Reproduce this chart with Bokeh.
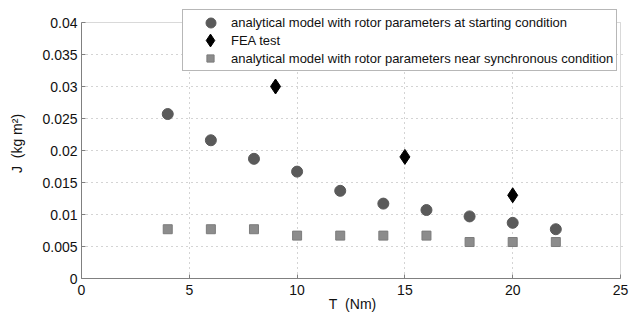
from bokeh.plotting import figure
from bokeh.models import Range1d, FixedTicker, Legend, LegendItem, BoxAnnotation
from bokeh.embed import file_html
from bokeh.resources import INLINE

# ---- data ----
t_start = [4, 6, 8, 10, 12, 14, 16, 18, 20, 22]
j_start = [0.0257, 0.0216, 0.0187, 0.0167, 0.0137, 0.0117, 0.0107, 0.0097, 0.0087, 0.0077]

t_fea = [9, 15, 20]
j_fea = [0.030, 0.019, 0.013]

t_sync = [4, 6, 8, 10, 12, 14, 16, 18, 20, 22]
j_sync = [0.0077, 0.0077, 0.0077, 0.0067, 0.0067, 0.0067, 0.0067, 0.0057, 0.0057, 0.0057]

x_lim = (0, 25)
y_lim = (0, 0.04)
x_ticks = [0, 5, 10, 15, 20, 25]
x_tick_labels = ["0", "5", "10", "15", "20", "25"]
y_ticks = [0, 0.005, 0.01, 0.015, 0.02, 0.025, 0.03, 0.035, 0.04]
y_tick_labels = ["0", "0.005", "0.01", "0.015", "0.02", "0.025", "0.03", "0.035", "0.04"]

x_title = "T\u00a0\u00a0(Nm)"
y_title = "J\u00a0\u00a0(kg\u00a0m²)"
legend_labels = [
    "analytical model with rotor parameters at starting condition",
    "FEA test",
    "analytical model with rotor parameters near synchronous condition",
]

FONT = "Liberation Sans"
C_START = "#5a5a5a"
C_SYNC = "#8c8c8c"
GRAY = "#808080"

# the frame is a little larger than the axes box so the legend (which sits above
# the box, as in the reference) is not clipped; the box itself is drawn at the limits
px_x = 539 / (x_lim[1] - x_lim[0])
px_y = 256 / (y_lim[1] - y_lim[0])
p = figure(width=631, height=314, output_backend="svg", toolbar_location=None,
           x_range=Range1d(x_lim[0], x_lim[1] + 3 / px_x),
           y_range=Range1d(y_lim[0], y_lim[1] + 14 / px_y),
           min_border_left=81, min_border_right=8, min_border_top=8, min_border_bottom=36)
p.background_fill_color = "white"
p.border_fill_color = "white"
p.outline_line_color = None

for ax, ticks, labels, lim in ((p.xaxis[0], x_ticks, x_tick_labels, x_lim),
                               (p.yaxis[0], y_ticks, y_tick_labels, y_lim)):
    ax.ticker = FixedTicker(ticks=ticks)
    ax.bounds = lim
    ax.major_label_overrides = {t: l for t, l in zip(ticks, labels)}
    ax.minor_tick_line_color = None
    ax.major_tick_in = 4
    ax.major_tick_out = 0
    ax.major_tick_line_color = GRAY
    ax.axis_line_color = GRAY
    ax.major_label_text_font = FONT
    ax.major_label_text_font_size = "14px"
    ax.major_label_text_color = "#111111"
    ax.axis_label_text_font = FONT
    ax.axis_label_text_font_style = "normal"
    ax.axis_label_text_color = "#111111"
p.xaxis[0].major_label_standoff = 6
p.xaxis[0].axis_label = x_title
p.xaxis[0].axis_label_standoff = -2
p.xaxis[0].axis_label_text_font_size = "14px"
p.yaxis[0].major_label_standoff = 4
p.yaxis[0].axis_label = y_title
p.yaxis[0].axis_label_standoff = 14
p.yaxis[0].axis_label_text_font_size = "14px"

p.xgrid[0].ticker = FixedTicker(ticks=x_ticks[1:-1])
p.ygrid[0].ticker = FixedTicker(ticks=y_ticks[1:-1])
for g in (p.xgrid[0], p.ygrid[0]):
    g.grid_line_color = "#a8a8a8"
    g.grid_line_dash = "1 4"
    g.grid_line_width = 1
p.xgrid[0].bounds = x_lim
p.ygrid[0].bounds = y_lim

# axes box (top and right edges)
p.add_layout(BoxAnnotation(left=x_lim[0], right=x_lim[1], bottom=y_lim[0], top=y_lim[1],
                           fill_alpha=0, line_color=GRAY, line_width=1, level="underlay"))

r1 = p.scatter(t_start, j_start, marker="circle", size=11, fill_color=C_START, line_color=C_START)
r2 = p.scatter(t_fea, j_fea, marker="diamond", size=15, fill_color="black", line_color="black")
r3 = p.scatter(t_sync, j_sync, marker="square", size=9, fill_color=C_SYNC, line_color="#7c7c7c")

# invisible stand-ins: the main legend draws box and texts only
d1 = p.scatter([], [], marker="circle", fill_alpha=0, line_alpha=0)
d2 = p.scatter([], [], marker="diamond", fill_alpha=0, line_alpha=0)
d3 = p.scatter([], [], marker="square", fill_alpha=0, line_alpha=0)

legend = Legend(items=[LegendItem(label=legend_labels[0], renderers=[d1]),
                       LegendItem(label=legend_labels[1], renderers=[d2]),
                       LegendItem(label=legend_labels[2], renderers=[d3])],
                location=(101, 207), orientation="vertical",
                glyph_width=42, glyph_height=18, label_height=18, spacing=0,
                label_standoff=3, padding=3, margin=0,
                label_text_font=FONT, label_text_font_size="13px", label_text_color="#111111",
                border_line_color="#707070", border_line_width=1,
                background_fill_color="white", background_fill_alpha=1.0)
p.add_layout(legend, "center")

# marker swatches, each in its own borderless legend so each keeps its own size
for rend, gsize, loc in ((r1, 25, (116.5, 243.5)), (r2, 32, (113, 222)), (r3, 18, (120, 211))):
    sw = Legend(items=[LegendItem(label=" ", renderers=[rend])], location=loc,
                glyph_width=gsize, glyph_height=gsize, label_height=gsize, spacing=0,
                label_standoff=0, padding=0, margin=0, label_text_font_size="1px",
                border_line_color=None, background_fill_alpha=0)
    p.add_layout(sw, "center")

open("out.html", "w").write(file_html(p, INLINE))
